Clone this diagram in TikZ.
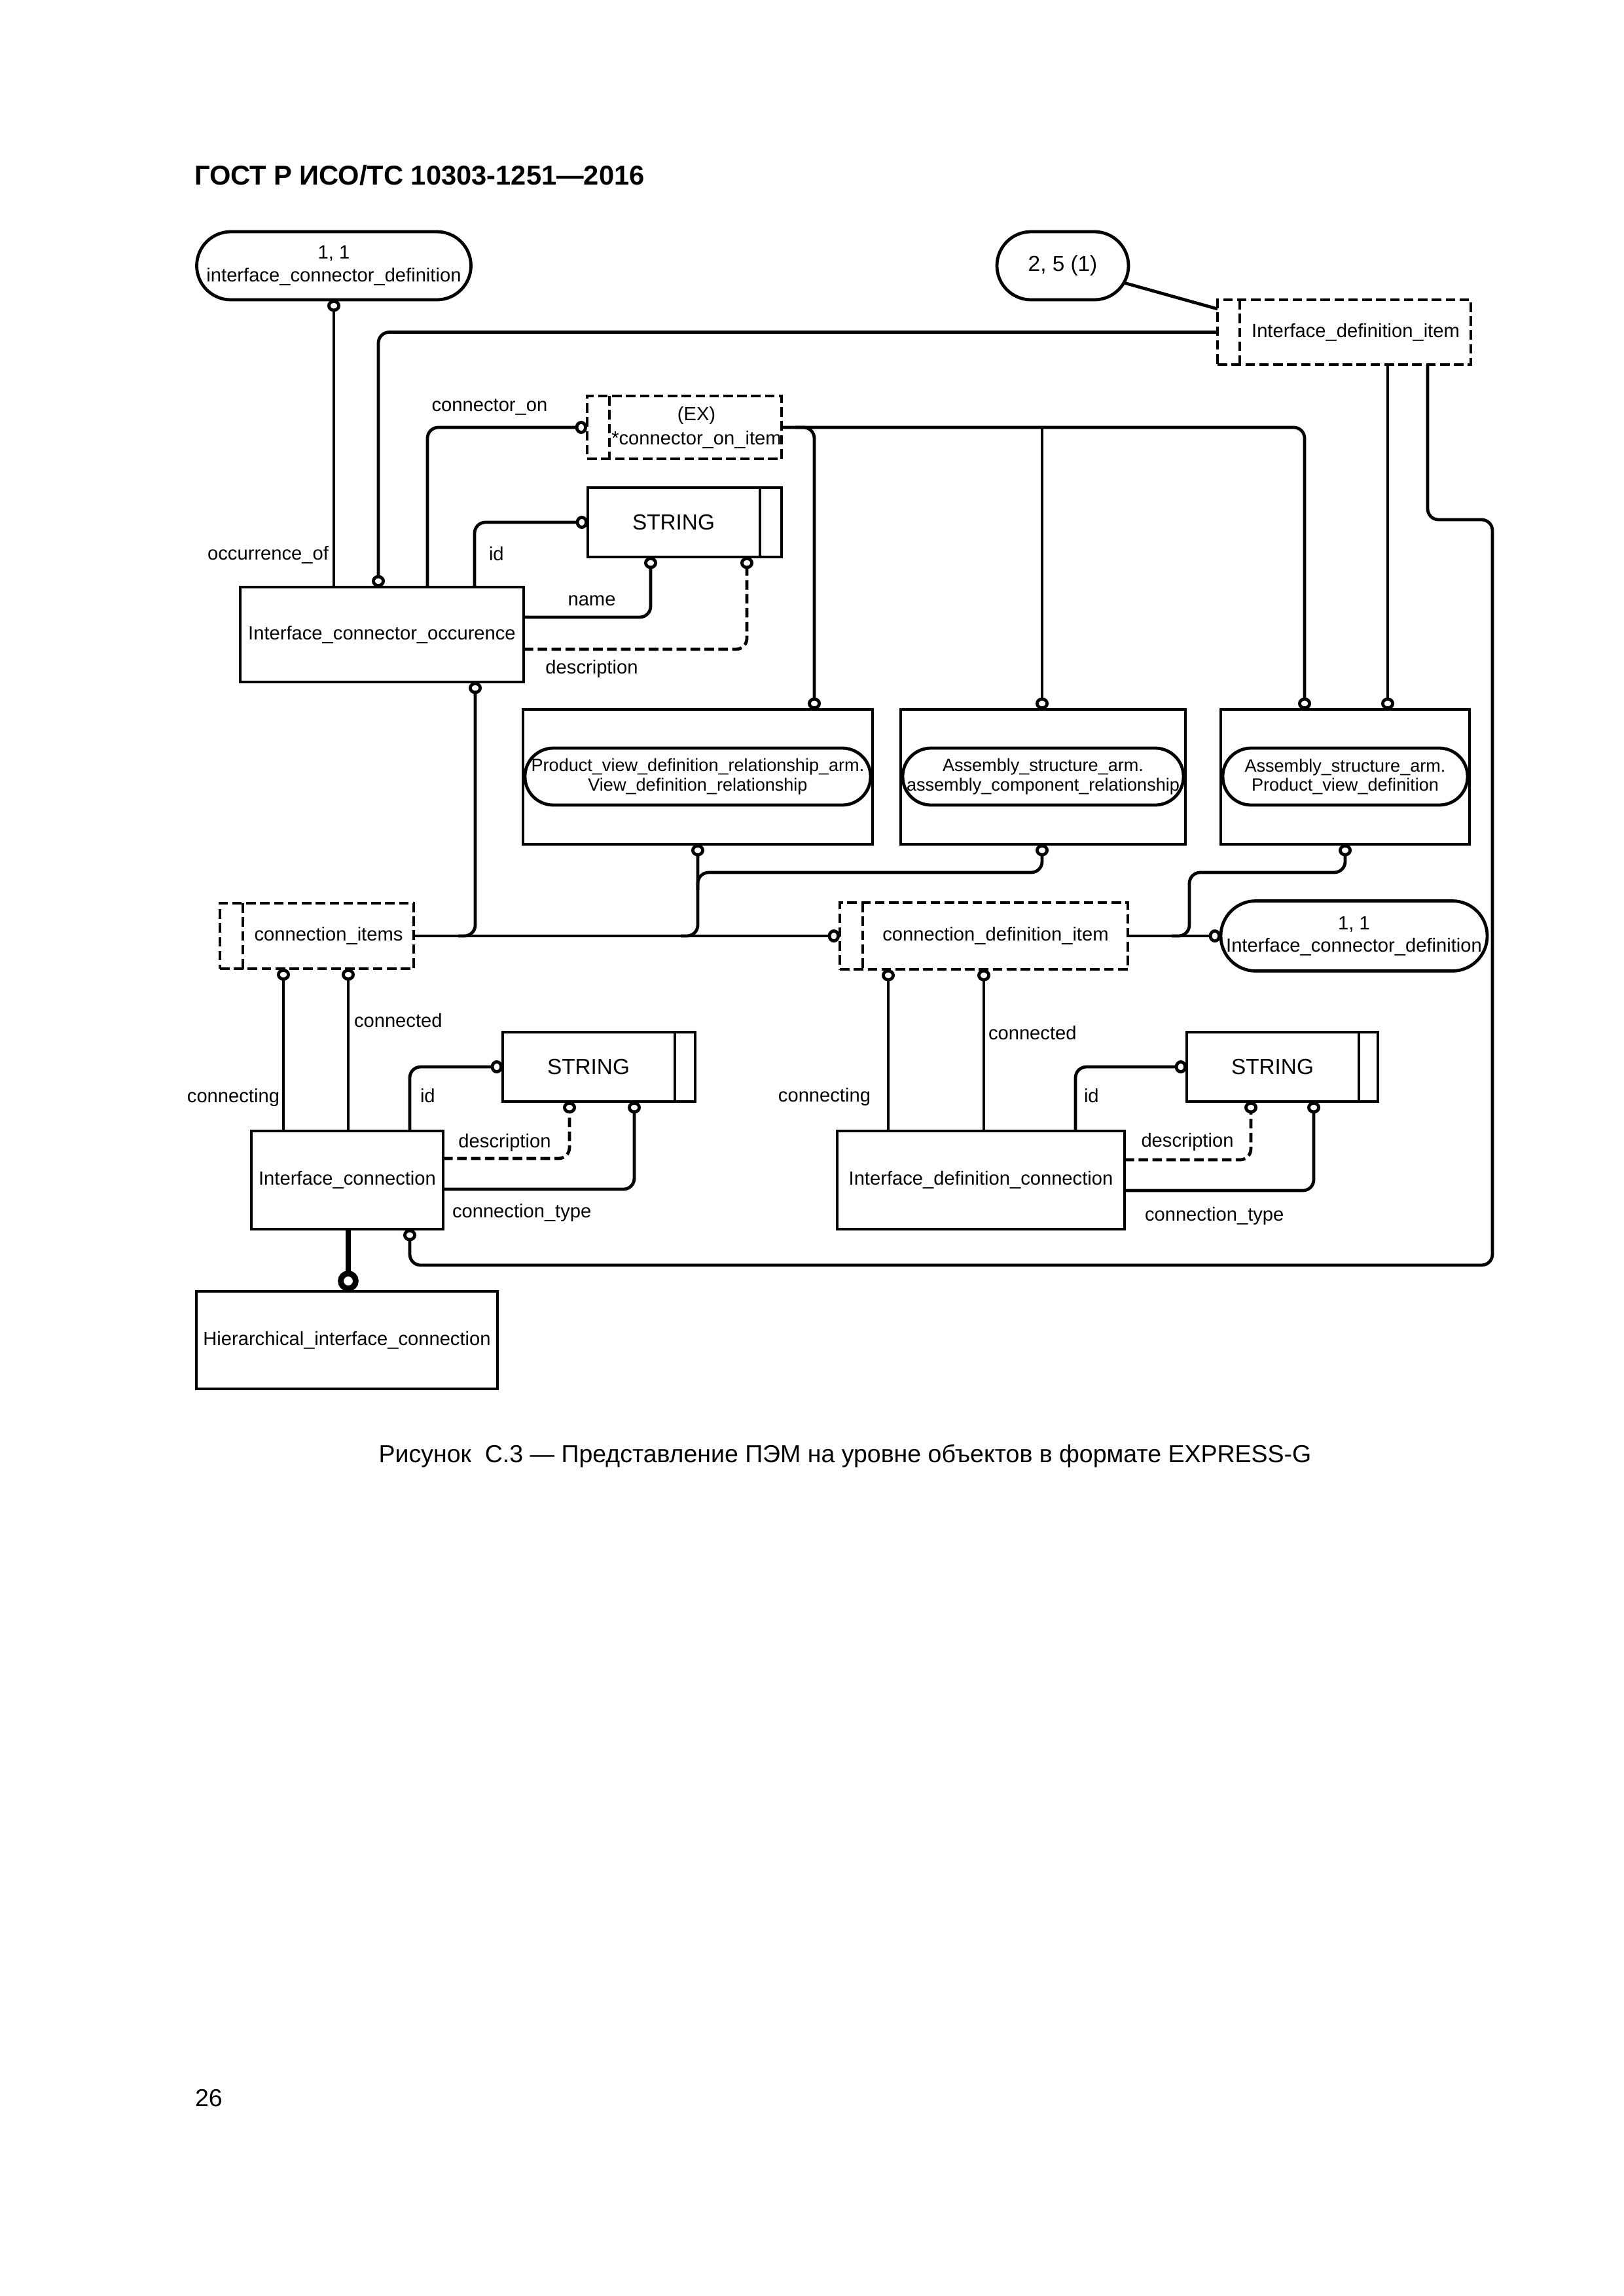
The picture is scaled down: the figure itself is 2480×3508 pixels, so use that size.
\documentclass[tikz,border=0pt]{standalone}
\usepackage{fontspec}
\setmainfont{Liberation Sans}
\usetikzlibrary{arrows.meta}
\newcommand\fsz[2]{\fontsize{#1pt}{#2pt}\selectfont}
\begin{document}
\begin{tikzpicture}[x=0.24003pt,y=-0.24003pt,
  every node/.style={inner sep=0pt,outer sep=0pt},
  sz/.style 2 args={minimum width=#1*0.24003pt,minimum height=#2*0.24003pt},
  dashpat/.style={dash pattern=on 3.5pt off 1.6pt},
  ent/.style={draw,line width=1.15pt,rectangle},
  selbox/.style={draw,line width=1.15pt,rectangle,dashpat},
  ovl/.style={draw,line width=1.15pt,rectangle,rounded corners=#1,align=center},
  txt/.style={font=\fsz{7}{8.4}},
  strtxt/.style={font=\fsz{8}{9.6}},
  small/.style={font=\fsz{6.5}{7}},
  conn/.style={line width=1.15pt,rounded corners=4pt},
  oc/.style={-{Circle[open,length=4.4pt,width=4.8pt]}},
  thickoc/.style={line width=2.1pt,-{Circle[open,length=7.6pt,width=7.6pt]}},
  innerline/.style={line width=1.15pt}
]
\useasboundingbox (0,0) rectangle (2480,3508);

% header, caption, page number
\node[anchor=west,font=\bfseries\fsz{10}{12}] (hdr) at (297,268) {ГОСТ Р ИСО/ТС 10303-1251—2016};
\node[font=\fsz{9}{11}] (cap) at (1291,2225) {Рисунок\ \ С.3 — Представление ПЭМ на уровне объектов в формате EXPRESS-G};
\node[anchor=west,font=\fsz{9}{11}] (pg) at (298,3206) {26};

% top ovals
\node[ovl=12.5pt,sz={419}{104},font=\fsz{7}{8.4}] (ovA) at (510,406) {1, 1\\interface\_connector\_definition};
\node[ovl=12.5pt,sz={201}{104},strtxt] (o25) at (1623.5,406) {2, 5 (1)};

% Interface_definition_item
\node[selbox,sz={387}{99}] (IDI) at (2053.5,507.5) {};
\draw[innerline,dashpat] (IDI.north -| 1894,0) -- (IDI.south -| 1894,0);
\node[txt] (IDIt) at (2071,508) {Interface\_definition\_item};

% EX select
\node[selbox,sz={297}{96}] (EX) at (1045.5,653) {};
\draw[innerline,dashpat] (EX.north -| 931,0) -- (EX.south -| 931,0);
\node[align=center,font=\fsz{7}{8.8}] (EXt) at (1064,653) {(EX)\\*connector\_on\_item};

% STRING 1
\node[ent,sz={296}{106}] (S1) at (1046,798) {};
\draw[innerline] (S1.north -| 1161,0) -- (S1.south -| 1161,0);
\node[strtxt] (S1t) at (1029,798) {STRING};

% Interface_connector_occurence
\node[ent,sz={433}{145},txt] (ICO) at (583.5,969.5) {Interface\_connector\_occurence};

% three boxes with inner ovals
\node[ent,sz={534}{206}] (B1) at (1066,1187) {};
\node[ovl=10.4pt,sz={528}{87},small] (B1o) at (1066,1186.5) {Product\_view\_definition\_relationship\_arm.\\View\_definition\_relationship};
\node[ent,sz={435}{206}] (B2) at (1593.5,1187) {};
\node[ovl=10.4pt,sz={429}{87},small] (B2o) at (1593.5,1186.5) {Assembly\_structure\_arm.\\assembly\_component\_relationship};
\node[ent,sz={380}{206}] (B3) at (2055,1187) {};
\node[ovl=10.4pt,sz={374}{87},small] (B3o) at (2055,1186.5) {Assembly\_structure\_arm.\\Product\_view\_definition};

% connection_items
\node[selbox,sz={296}{100}] (CI) at (484,1430) {};
\draw[innerline,dashpat] (CI.north -| 371,0) -- (CI.south -| 371,0);
\node[txt] (CIt) at (502,1430) {connection\_items};

% connection_definition_item
\node[selbox,sz={440}{102}] (CDI) at (1503,1430) {};
\draw[innerline,dashpat] (CDI.north -| 1318,0) -- (CDI.south -| 1318,0);
\node[txt] (CDIt) at (1521,1430) {connection\_definition\_item};

% oval B
\node[ovl=12.8pt,sz={407}{107},font=\fsz{7}{8.1}] (OvB) at (2068.5,1430) {1, 1\\Interface\_connector\_definition};

% Interface_connection and its STRING
\node[ent,sz={293}{150},txt] (IC) at (530.5,1803) {Interface\_connection};
\node[ent,sz={294}{106}] (S2) at (915,1630) {};
\draw[innerline] (S2.north -| 1031,0) -- (S2.south -| 1031,0);
\node[strtxt] (S2t) at (899,1630) {STRING};

% Interface_definition_connection and its STRING
\node[ent,sz={439}{150},txt] (IDC) at (1498.5,1803) {Interface\_definition\_connection};
\node[ent,sz={292}{106}] (S3) at (1959,1630) {};
\draw[innerline] (S3.north -| 2076,0) -- (S3.south -| 2076,0);
\node[strtxt] (S3t) at (1944,1630) {STRING};

% Hierarchical
\node[ent,sz={460}{149},txt] (Hier) at (530,2047.5) {Hierarchical\_interface\_connection};

% ---------- connectors ----------
\draw[conn,oc] (ICO.north -| 510,0) -- (ovA.south);
\draw[conn,oc] (IDI.west) -- (IDI.west -| 578,0) -- (ICO.north -| 578,0);
\draw[conn,oc] (ICO.north -| 653,0) -- (653,653) -- (EX.west);
\draw[conn,oc] (ICO.north -| 725,0) -- (725,798) -- (S1.west);
\draw[conn,oc] (ICO.east |- 0,943) -- (994,943) -- (S1.south -| 994,0);
\draw[conn,oc,dashpat] (ICO.east |- 0,992) -- (1141,992) -- (S1.south -| 1141,0);

\draw[conn,oc] (EX.east) -- (EX.east -| 1993,0) -- (B3.north -| 1993,0);
\draw[conn,oc] (1215,653) -- (1244,653) -- (B1.north -| 1244,0);
\draw[conn,oc] (1592,653) -- (B2.north -| 1592,0);

\draw[line width=1.15pt] (1717,432) -- (IDI.west |- 0,472);
\draw[conn,oc] (IDI.south -| 2120,0) -- (B3.north -| 2120,0);
\draw[conn,oc] (IDI.south -| 2181,0) -- (2181,794) -- (2280,794) -- (2280,1933) -- (626,1933) -- (IC.south -| 626,0);

\draw[conn,oc] (CI.east) -- (CDI.west);
\draw[conn,oc] (700,1430) -- (726,1430) -- (ICO.south -| 726,0);
\draw[conn,oc] (1040,1430) -- (1066,1430) -- (B1.south -| 1066,0);
\draw[conn,oc] (1066,1360) -- (1066,1333) -- (1592,1333) -- (B2.south -| 1592,0);
\draw[conn,oc] (CDI.east) -- (OvB.west);
\draw[conn,oc] (1790,1430) -- (1817,1430) -- (1817,1333) -- (2055,1333) -- (B3.south -| 2055,0);

\draw[conn,oc] (IC.north -| 433,0) -- (CI.south -| 433,0);
\draw[conn,oc] (IC.north -| 532,0) -- (CI.south -| 532,0);
\draw[conn,oc] (IDC.north -| 1357,0) -- (CDI.south -| 1357,0);
\draw[conn,oc] (IDC.north -| 1503,0) -- (CDI.south -| 1503,0);

\draw[conn,oc] (IC.north -| 626,0) -- (626,1630) -- (S2.west);
\draw[conn,oc,dashpat] (IC.east |- 0,1770) -- (870,1770) -- (S2.south -| 870,0);
\draw[conn,oc] (IC.east |- 0,1817) -- (969,1817) -- (S2.south -| 969,0);

\draw[conn,oc] (IDC.north -| 1643,0) -- (1643,1630) -- (S3.west);
\draw[conn,oc,dashpat] (IDC.east |- 0,1772) -- (1911,1772) -- (S3.south -| 1911,0);
\draw[conn,oc] (IDC.east |- 0,1819) -- (2007,1819) -- (S3.south -| 2007,0);

\draw[thickoc] (IC.south -| 532,0) -- (Hier.north -| 532,0);

% ---------- labels ----------
\node[txt,anchor=east] (l1) at (502,848) {occurrence\_of};
\node[txt] (l2) at (748,622) {connector\_on};
\node[txt,anchor=west] (l3) at (747,846) {id};
\node[txt] (l4) at (904,918) {name};
\node[txt] (l5) at (904,1022) {description};
\node[txt,anchor=west] (l6) at (541,1559) {connected};
\node[txt,anchor=east] (l7) at (427,1677) {connecting};
\node[txt,anchor=west] (l8) at (642,1674) {id};
\node[txt] (l9) at (771,1746) {description};
\node[txt,anchor=west] (l10) at (691,1853) {connection\_type};
\node[txt,anchor=east] (l11) at (1330,1676) {connecting};
\node[txt,anchor=west] (l12) at (1510,1578) {connected};
\node[txt,anchor=west] (l13) at (1656,1674) {id};
\node[txt] (l14) at (1814,1745) {description};
\node[txt,anchor=west] (l15) at (1749,1858) {connection\_type};
\end{tikzpicture}
\end{document}
